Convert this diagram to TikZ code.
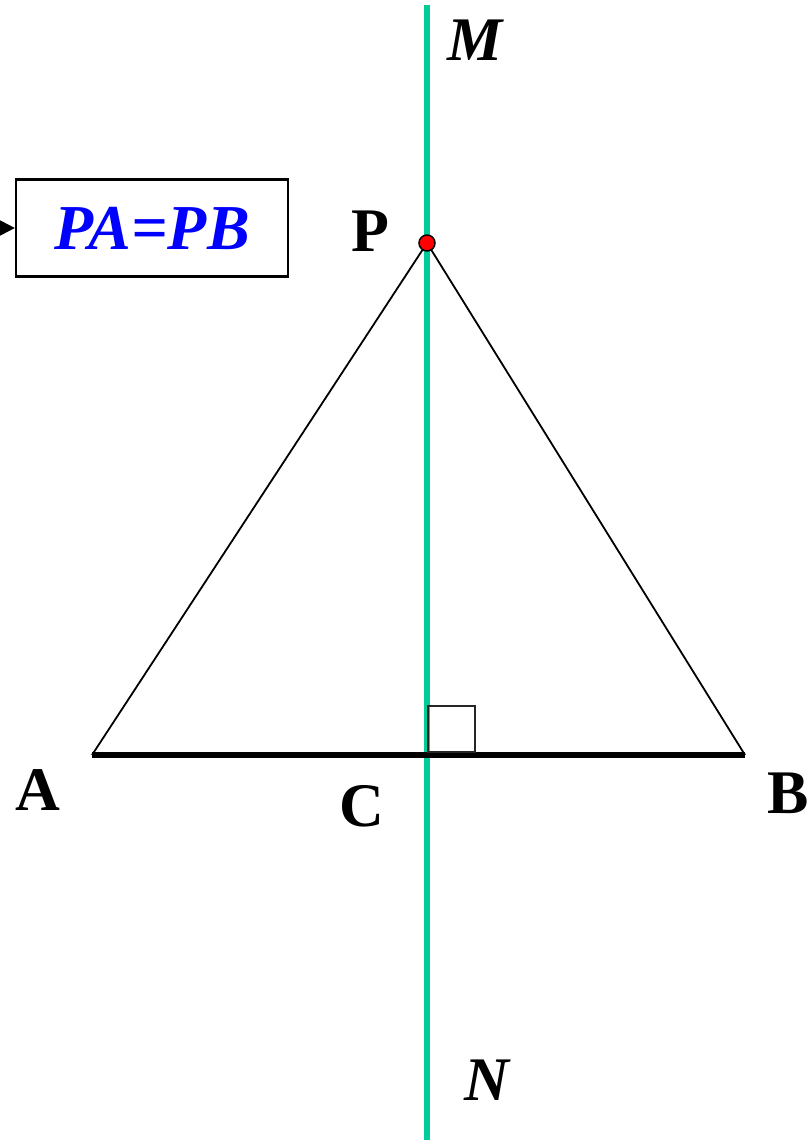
\documentclass[tikz,border=0pt]{standalone}
\usepackage{fontspec}
\setmainfont{Liberation Serif}
\usetikzlibrary{arrows.meta}
\definecolor{lgreen}{RGB}{0,204,153}
\definecolor{pblue}{RGB}{0,0,255}
\begin{document}
\begin{tikzpicture}[x=1pt,y=-1pt,
  lbl/.style={font=\fontsize{62}{62}\selectfont\bfseries, inner sep=0pt},
  ilbl/.style={font=\fontsize{62}{62}\selectfont\bfseries\itshape, inner sep=0pt}]
\useasboundingbox (0,0) rectangle (809,1140);
% points
\coordinate (A) at (92,755);
\coordinate (B) at (745,755);
\coordinate (Pp) at (427,243);
\coordinate (Mtop) at (427,5);
\coordinate (Nbot) at (427,1140);
\coordinate (C) at (427,755);
% perpendicular bisector
\draw[lgreen, line width=6pt] (Mtop) -- (Nbot);
% triangle sides
\draw[line width=1.8pt] (A) -- (Pp) -- (B);
\draw[line width=6pt] (A) -- (B);
% right angle mark
\draw[black!85, line width=2.2pt] (428,752) rectangle (475,706);
% point P
\fill[red, draw=black, line width=1.5pt] (Pp) circle (8pt);
% labels
\node[lbl] (lA) at (38,790) {A};
\node[lbl] (lB) at (788,793) {B};
\node[lbl] (lC) at (362,806) {C};
\node[lbl] (lP) at (370,231) {P};
\node[ilbl] (lM) at (475,40) {M};
\node[ilbl] (lN) at (487,1080) {N};
% box
\node[draw, line width=2.2pt, minimum width=272pt, minimum height=97pt, inner sep=0pt,
  font=\fontsize{64}{64}\selectfont\bfseries\itshape, text=pblue] (box) at (152,228) {PA=PB};
\coordinate (arrstart) at (-2,228);
\draw[-{Triangle[length=15pt,width=15pt]}, line width=2.2pt] (arrstart) -- (box.west);
\end{tikzpicture}
\end{document}
